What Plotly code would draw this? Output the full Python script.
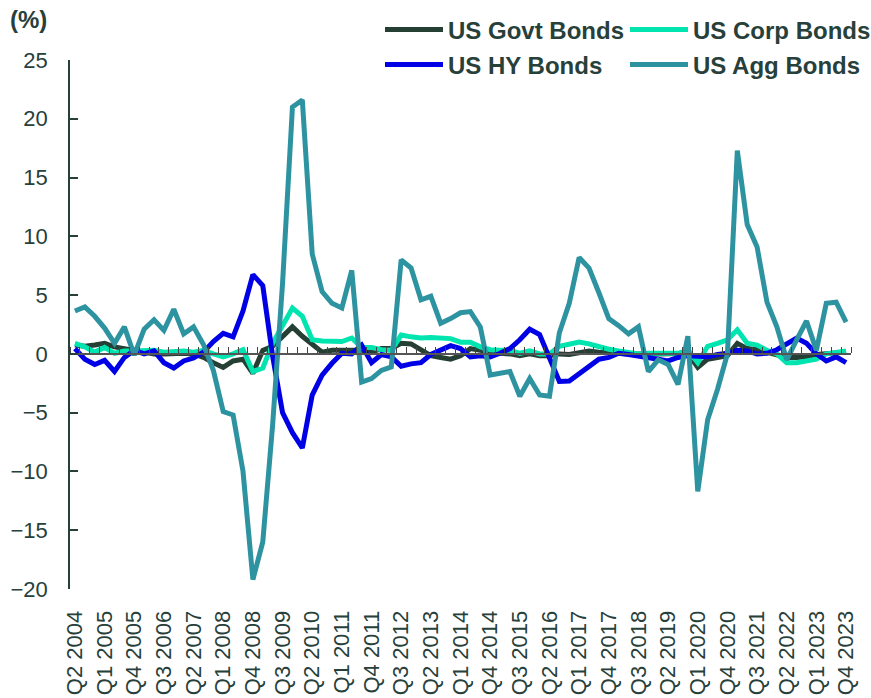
import plotly.graph_objects as go

# quarterly categories Q2 2004 .. Q4 2023
quarters = [f"Q{(i + 1) % 4 + 1} {2004 + (i + 1) // 4}" for i in range(79)]
tick_labels = quarters[::3]

us_govt = [0.75, 0.65, 0.75, 0.9, 0.6, 0.45, 0.25, 0.05, 0.0, 0.0,
           0.05, 0.05, 0.0, -0.3, -0.75, -1.15, -0.6, -0.45, -1.65, 0.3,
           0.65, 1.5, 2.3, 1.5, 0.8, 0.15, 0.3, 0.3, 0.35, 0.3,
           0.15, 0.45, 0.45, 0.9, 0.85, 0.3, -0.15, -0.3, -0.45, -0.15,
           0.45, 0.3, 0.15, 0.05, 0.0, -0.15, 0.0, -0.15, -0.15, 0.0,
           -0.05, 0.15, 0.25, 0.15, 0.05, 0.05, 0.0, -0.05, 0.0, 0.0,
           0.0, 0.05, 0.05, -1.15, -0.45, -0.3, -0.15, 0.9, 0.45, 0.35,
           0.15, -0.15, -0.3, -0.3, -0.25, -0.05, 0.0, 0.05, 0.15]

us_corp = [0.9, 0.6, 0.15, 0.55, 0.05, 0.25, 0.25, 0.25, 0.3, 0.15,
           0.2, 0.25, 0.15, 0.3, 0.0, -0.25, 0.0, 0.35, -1.5, -1.2,
           0.9, 2.3, 3.9, 3.2, 1.2, 1.1, 1.05, 1.05, 1.35, 0.55,
           0.55, 0.35, 0.3, 1.6, 1.45, 1.35, 1.4, 1.3, 1.3, 1.0,
           1.0, 0.6, 0.35, 0.3, 0.3, 0.05, 0.25, 0.0, 0.0, 0.65,
           0.85, 1.0, 0.85, 0.6, 0.4, 0.25, 0.1, 0.0, 0.05, 0.0,
           0.05, 0.05, 0.3, -0.75, 0.65, 0.9, 1.2, 2.05, 0.9, 0.75,
           0.3, 0.0, -0.75, -0.75, -0.65, -0.45, 0.0, 0.15, 0.25]

us_hy = [0.45, -0.45, -0.9, -0.55, -1.5, -0.3, 0.3, 0.0, 0.25, -0.75,
         -1.2, -0.6, -0.35, 0.15, 1.05, 1.75, 1.45, 3.65, 6.75, 5.8,
         -0.2, -5.0, -6.7, -8.0, -3.5, -1.8, -0.8, 0.05, 0.0, 0.75,
         -0.75, -0.05, -0.25, -1.05, -0.85, -0.75, -0.05, 0.35, 0.7, 0.45,
         -0.25, -0.15, -0.25, 0.05, 0.45, 1.2, 2.1, 1.65, -0.45, -2.35,
         -2.3, -1.65, -1.05, -0.45, -0.3, 0.05, -0.05, -0.15, -0.25, -0.45,
         -0.6, -0.3, -0.15, -0.25, -0.25, -0.05, 0.05, 0.3, 0.25, 0.0,
         0.05, 0.35, 0.9, 1.35, 0.9, 0.0, -0.6, -0.25, -0.75]

us_agg = [3.65, 4.0, 3.2, 2.2, 0.9, 2.3, -0.1, 2.1, 2.9, 2.0,
          3.8, 1.7, 2.3, 0.8, -1.4, -4.9, -5.2, -10.0, -19.2, -16.0,
          -6.0, 6.0, 21.0, 21.6, 8.5, 5.3, 4.3, 3.9, 7.1, -2.4,
          -2.1, -1.4, -1.1, 8.0, 7.3, 4.6, 4.9, 2.6, 3.0, 3.5,
          3.6, 2.3, -1.8, -1.7, -1.5, -3.6, -2.1, -3.5, -3.6, 1.8,
          4.3, 8.2, 7.3, 5.2, 3.0, 2.4, 1.7, 2.3, -1.5, -0.5,
          -0.9, -2.6, 1.5, -11.7, -5.6, -3.0, 0.0, 17.3, 11.0, 9.1,
          4.4, 2.3, -0.5, 1.2, 2.8, 0.3, 4.3, 4.4, 2.7]

TEXT = '#27403A'
series = [
    ('US Govt Bonds', us_govt, '#263F35', 'legend'),
    ('US Corp Bonds', us_corp, '#00E5B0', 'legend'),
    ('US HY Bonds', us_hy, '#0000E6', 'legend2'),
    ('US Agg Bonds', us_agg, '#2E93A0', 'legend2'),
]

fig = go.Figure()
# invisible helper so the zero-line axis gets drawn
fig.add_trace(go.Scatter(x=[], y=[], xaxis='x2', showlegend=False, hoverinfo='skip'))
for name, vals, color, leg in series:
    fig.add_trace(go.Scatter(x=quarters, y=vals, mode='lines', name=name,
                             line=dict(color=color, width=5), legend=leg))

legend_style = dict(orientation='h', xref='container', yref='container',
                    xanchor='left', yanchor='middle', x=380 / 871,
                    font=dict(family='Liberation Sans', size=24, color=TEXT, weight='bold'),
                    itemwidth=58, entrywidth=172, bgcolor='rgba(0,0,0,0)',
                    traceorder='normal')

fig.update_layout(
    template='none',
    width=871, height=698,
    margin=dict(l=70, r=20, t=60, b=109, autoexpand=False),
    plot_bgcolor='white', paper_bgcolor='white',
    font=dict(family='Liberation Sans', color=TEXT),
    legend=dict(legend_style, y=1 - 30 / 698),
    legend2=dict(legend_style, y=1 - 65 / 698),
    xaxis=dict(type='category', categoryorder='array', categoryarray=quarters,
               range=[-0.5, 78.5], tickvals=tick_labels, tickangle=-90,
               ticks='outside', ticklen=12, tickcolor='rgba(0,0,0,0)',
               tickfont=dict(size=22, color=TEXT), showgrid=False,
               showline=False, zeroline=False, automargin=False),
    xaxis2=dict(overlaying='x', anchor='free', position=20 / 45, side='top',
                range=[-0.5, 78.5], tick0=-0.5, dtick=1, ticks='outside',
                ticklen=6, tickwidth=1, tickcolor='#444444', showline=True,
                linecolor='#555555', linewidth=1.5, showticklabels=False,
                showgrid=False, zeroline=False, automargin=False),
    yaxis=dict(range=[-20, 25], dtick=5, ticks='inside', ticklen=8,
               tickwidth=1.5, tickcolor=TEXT, showline=True, linecolor=TEXT,
               linewidth=1.5, showgrid=False, zeroline=False, automargin=False,
               tickfont=dict(size=22, color=TEXT), ticklabelstandoff=16),
    annotations=[dict(text='(%)', xref='paper', yref='paper',
                      x=(8 - 70) / 781, y=1 + (60 - 20) / 529,
                      xanchor='left', yanchor='middle', showarrow=False,
                      font=dict(size=24, color=TEXT, weight='bold'))],
)

# drop the browser's default body margin so the figure fills the window
fig.write_html("out.html", config={'displayModeBar': False},
               post_script="document.body.style.margin='0';")
